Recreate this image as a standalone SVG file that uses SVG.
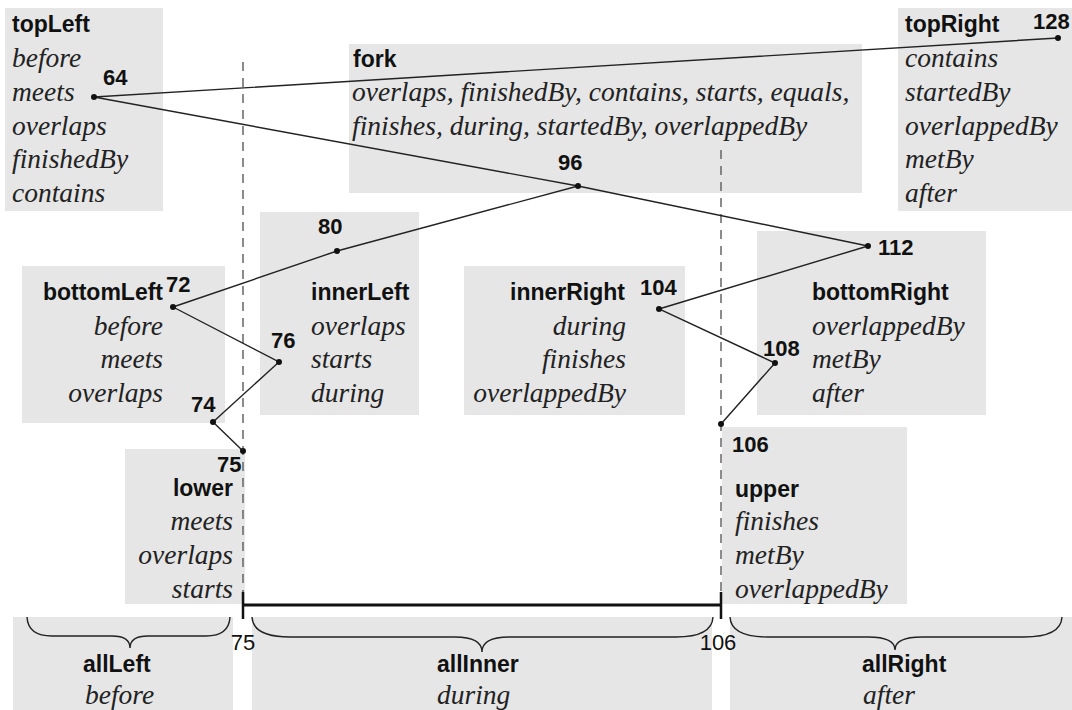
<svg xmlns="http://www.w3.org/2000/svg" width="1072" height="710" viewBox="0 0 1072 710">
<style>
.box{fill:#e6e6e6;stroke:none}
.t{font-family:"Liberation Sans",Arial,sans-serif;font-weight:bold;font-size:23px;font-style:normal;fill:#111}
.n{font-family:"Liberation Sans",Arial,sans-serif;font-weight:bold;font-size:22px;fill:#111}
.r{font-family:"Liberation Sans",Arial,sans-serif;font-size:22px;fill:#111}
.i{font-family:"Liberation Serif","Times New Roman",serif;font-style:italic;font-size:27.5px;fill:#222}
.e{text-anchor:end}
.ln{stroke:#222;stroke-width:1.4;fill:none}
.dash{stroke:#666;stroke-width:1.5;stroke-dasharray:9,7;fill:none}
.dot{fill:#111}
.brace{stroke:#222;stroke-width:1.4;fill:none}
</style>
<rect width="1072" height="710" fill="#fff"/>
<g id="topLeft"><rect class="box" x="5" y="8" width="158" height="203"/>
<text class="t" x="12" y="32">topLeft</text>
<text class="i" x="12" y="67">before</text><text class="i" x="12" y="101">meets</text><text class="i" x="12" y="135">overlaps</text><text class="i" x="12" y="168">finishedBy</text><text class="i" x="12" y="202">contains</text></g>
<g id="fork"><rect class="box" x="349" y="44" width="513" height="149"/>
<text class="t" x="353" y="67">fork</text>
<text class="i" x="352" y="101">overlaps, finishedBy, contains, starts, equals,</text>
<text class="i" x="352" y="135">finishes, during, startedBy, overlappedBy</text></g>
<g id="topRight"><rect class="box" x="898" y="8" width="174" height="203"/>
<text class="t" x="905" y="32">topRight</text>
<text class="i" x="905" y="67">contains</text><text class="i" x="905" y="101">startedBy</text><text class="i" x="905" y="135">overlappedBy</text><text class="i" x="905" y="168">metBy</text><text class="i" x="905" y="202">after</text></g>
<g id="bottomLeft"><rect class="box" x="22" y="266" width="203" height="157"/>
<text class="t e" x="163" y="300">bottomLeft</text>
<text class="i e" x="163" y="335">before</text><text class="i e" x="163" y="368">meets</text><text class="i e" x="163" y="402">overlaps</text></g>
<g id="innerLeft"><rect class="box" x="260" y="212" width="159" height="203"/>
<text class="t" x="311" y="300">innerLeft</text>
<text class="i" x="311" y="335">overlaps</text><text class="i" x="311" y="368">starts</text><text class="i" x="311" y="402">during</text></g>
<g id="innerRight"><rect class="box" x="464" y="266" width="221" height="149"/>
<text class="t e" x="625" y="300">innerRight</text>
<text class="i e" x="626" y="335">during</text><text class="i e" x="626" y="368">finishes</text><text class="i e" x="626" y="402">overlappedBy</text></g>
<g id="bottomRight"><rect class="box" x="757" y="231" width="229" height="184"/>
<text class="t" x="812" y="300">bottomRight</text>
<text class="i" x="812" y="335">overlappedBy</text><text class="i" x="812" y="368">metBy</text><text class="i" x="812" y="402">after</text></g>
<g id="lower"><rect class="box" x="125" y="449" width="120" height="155"/>
<text class="t e" x="233" y="496">lower</text>
<text class="i e" x="233" y="530">meets</text><text class="i e" x="233" y="564">overlaps</text><text class="i e" x="233" y="598">starts</text></g>
<g id="upper"><rect class="box" x="722" y="427" width="185" height="177"/>
<text class="t" x="735" y="497">upper</text>
<text class="i" x="735" y="530">finishes</text><text class="i" x="735" y="564">metBy</text><text class="i" x="735" y="598">overlappedBy</text></g>
<g id="allLeft"><rect class="box" x="13" y="617" width="220" height="93"/>
<text class="t" x="83" y="672">allLeft</text><text class="i" x="85" y="704">before</text></g>
<g id="allInner"><rect class="box" x="252" y="617" width="460" height="93"/>
<text class="t" x="437" y="672">allInner</text><text class="i" x="437" y="704">during</text></g>
<g id="allRight"><rect class="box" x="730" y="617" width="342" height="93"/>
<text class="t" x="862" y="672">allRight</text><text class="i" x="863" y="704">after</text></g>
<g id="axis">
<path class="dash" d="M243 62V604M721 150V604"/>
<path d="M243 605H721" stroke="#111" stroke-width="3"/>
<path d="M243 592V619M721 592V619" stroke="#111" stroke-width="2.5"/>
<text class="r" x="243" y="650" text-anchor="middle">75</text>
<text class="r" x="718" y="650" text-anchor="middle">106</text>
<path class="brace" d="M27 617Q28 636 52 636L112 636Q130 636 130 648Q130 636 148 636L206 636Q229 636 230 617"/>
<path class="brace" d="M252 617Q253 637 290 637L455 637Q482 637 482 652Q482 637 509 637L676 637Q712 637 713 617"/>
<path class="brace" d="M730 617Q731 637 768 637L868 637Q895 637 895 650Q895 637 922 637L1024 637Q1061 637 1062 617"/>
</g>
<g id="connectors">
<polyline class="ln" points="1058,38 94,97 578,186 337,251 173,307 279,362 213,422 243,451"/>
<polyline class="ln" points="578,186 868,246 659,309 775,363 721,424"/>
</g>
<g id="points">
<circle class="dot" cx="94" cy="97" r="3"/><circle class="dot" cx="1058" cy="38" r="3"/>
<circle class="dot" cx="578" cy="186" r="3"/><circle class="dot" cx="337" cy="251" r="3"/>
<circle class="dot" cx="173" cy="307" r="3"/><circle class="dot" cx="279" cy="362" r="3"/>
<circle class="dot" cx="213" cy="422" r="3"/><circle class="dot" cx="243" cy="451" r="3"/>
<circle class="dot" cx="868" cy="246" r="3"/><circle class="dot" cx="659" cy="309" r="3"/>
<circle class="dot" cx="775" cy="363" r="3"/><circle class="dot" cx="721" cy="424" r="3"/>
<text class="n" x="103" y="85">64</text>
<text class="n" x="1033" y="29">128</text>
<text class="n" x="558" y="170">96</text>
<text class="n" x="318" y="234">80</text>
<text class="n" x="166" y="292">72</text>
<text class="n" x="271" y="348">76</text>
<text class="n" x="191" y="412">74</text>
<text class="n" x="217" y="472">75</text>
<text class="n" x="878" y="255">112</text>
<text class="n" x="640" y="295">104</text>
<text class="n" x="763" y="356">108</text>
<text class="n" x="732" y="452">106</text>
</g>
</svg>
